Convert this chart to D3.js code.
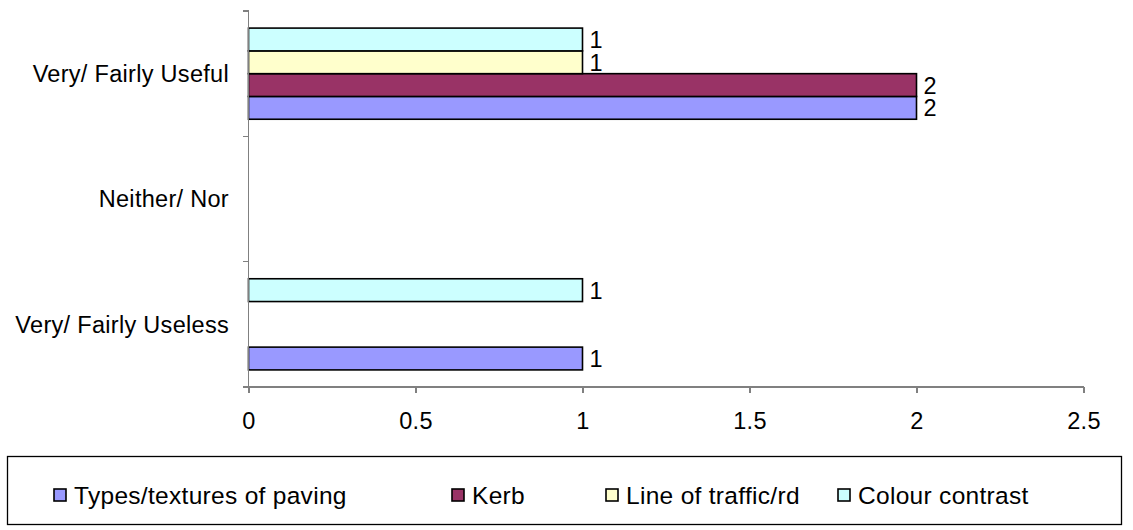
<!DOCTYPE html>
<meta charset="utf-8">
<style>
body { margin: 0; background: #fff; }
svg text { font-family: "Liberation Sans", Arial, sans-serif; font-size: 23.5px; fill: #000; letter-spacing: 0.3px; }
.axis path, .axis line { fill: none; stroke: #808080; stroke-width: 1.3px; shape-rendering: crispEdges; }
.legend text { font-size: 24.5px; }
</style>
<svg width="1133" height="530"></svg>
<script src="https://d3js.org/d3.v7.min.js"></script>
<script>

// categories, top to bottom
var categories = ["Very/ Fairly Useful", "Neither/ Nor", "Very/ Fairly Useless"];

// series, in legend order (drawn bottom-up within each group)
var seriesNames = ["Types/textures of paving", "Kerb", "Line of traffic/rd", "Colour contrast"];
var seriesColors = ["#9999FF", "#993366", "#FFFFCC", "#CCFFFF"];

// values per series, one per category (null = blank)
var paving   = [2, null, 1];
var kerb     = [2, null, null];
var line     = [1, null, null];
var contrast = [1, null, 1];

var xTicks = [0, 0.5, 1, 1.5, 2, 2.5];

var seriesValues = [paving, kerb, line, contrast];

var svg = d3.select("svg");

var x = d3.scaleLinear()
    .domain([0, 2.5])
    .range([248.5, 1083.5]);

var y0 = d3.scaleBand()
    .domain(categories)
    .range([11, 387])
    .padding(0);

// inside a group the last series sits on top
var y1 = d3.scaleBand()
    .domain(seriesNames.slice().reverse())
    .range([0, y0.bandwidth()])
    .paddingInner(0)
    .paddingOuter(0.75);

// build flat list of bars
var bars = [];
categories.forEach(function(c, ci) {
  seriesNames.forEach(function(s, si) {
    var v = seriesValues[si][ci];
    if (v != null) bars.push({cat: c, series: s, color: seriesColors[si], value: v});
  });
});

var g = svg.append("g");

g.selectAll("rect.bar")
    .data(bars)
  .enter().append("rect")
    .attr("class", "bar")
    .attr("x", x(0))
    .attr("y", function(d) { return y0(d.cat) + y1(d.series); })
    .attr("width", function(d) { return x(d.value) - x(0); })
    .attr("height", y1.bandwidth())
    .attr("fill", function(d) { return d.color; })
    .attr("stroke", "#000")
    .attr("stroke-width", 1.6);

// data labels
g.selectAll("text.lbl")
    .data(bars)
  .enter().append("text")
    .attr("class", "lbl")
    .attr("x", function(d) { return x(d.value) + 7; })
    .attr("y", function(d) { return y0(d.cat) + y1(d.series) + y1.bandwidth() / 2; })
    .attr("dy", "0.36em")
    .text(function(d) { return d.value; });

// x axis
var xAxis = d3.axisBottom(x)
    .tickValues(xTicks)
    .tickFormat(d3.format("~g"))
    .tickSize(6)
    .tickSizeOuter(0)
    .tickPadding(19);

var gx = svg.append("g")
    .attr("class", "axis")
    .attr("transform", "translate(0," + 387 + ")")
    .call(xAxis);
gx.attr("font-family", null).attr("font-size", null);
gx.selectAll("text").attr("fill", "#000");
gx.select(".domain").attr("d", "M" + x(0) + ",0H" + x(2.5));

// y axis: category ticks at band boundaries
var gy = svg.append("g").attr("class", "axis");
gy.append("line")
    .attr("x1", x(0)).attr("x2", x(0))
    .attr("y1", y0.range()[0]).attr("y2", y0.range()[1]);
var bounds = categories.map(function(c) { return y0(c); }).concat([y0.range()[1]]);
gy.selectAll("line.tk")
    .data(bounds)
  .enter().append("line")
    .attr("class", "tk")
    .attr("x1", x(0) - 6).attr("x2", x(0))
    .attr("y1", function(d) { return d; }).attr("y2", function(d) { return d; });

gy.selectAll("text")
    .data(categories)
  .enter().append("text")
    .attr("x", 229)
    .attr("y", function(d) { return y0(d) + y0.bandwidth() / 2; })
    .attr("dy", "0.36em")
    .attr("text-anchor", "end")
    .text(function(d) { return d; });

// legend
var legend = svg.append("g").attr("class", "legend");
legend.append("rect")
    .attr("x", 7.5).attr("y", 456.5)
    .attr("width", 1114).attr("height", 68)
    .attr("fill", "#fff")
    .attr("stroke", "#000")
    .attr("stroke-width", 1.3);

var legendX = [54, 452, 606, 838];
var item = legend.selectAll("g.item")
    .data(seriesNames)
  .enter().append("g")
    .attr("class", "item")
    .attr("transform", function(d, i) { return "translate(" + legendX[i] + ",489)"; });

item.append("rect")
    .attr("x", 0).attr("y", 0)
    .attr("width", 12).attr("height", 12)
    .attr("fill", function(d, i) { return seriesColors[i]; })
    .attr("stroke", "#000")
    .attr("stroke-width", 1.6);

item.append("text")
    .attr("x", 20)
    .attr("y", 6)
    .attr("dy", "0.36em")
    .text(function(d) { return d; });

</script>
